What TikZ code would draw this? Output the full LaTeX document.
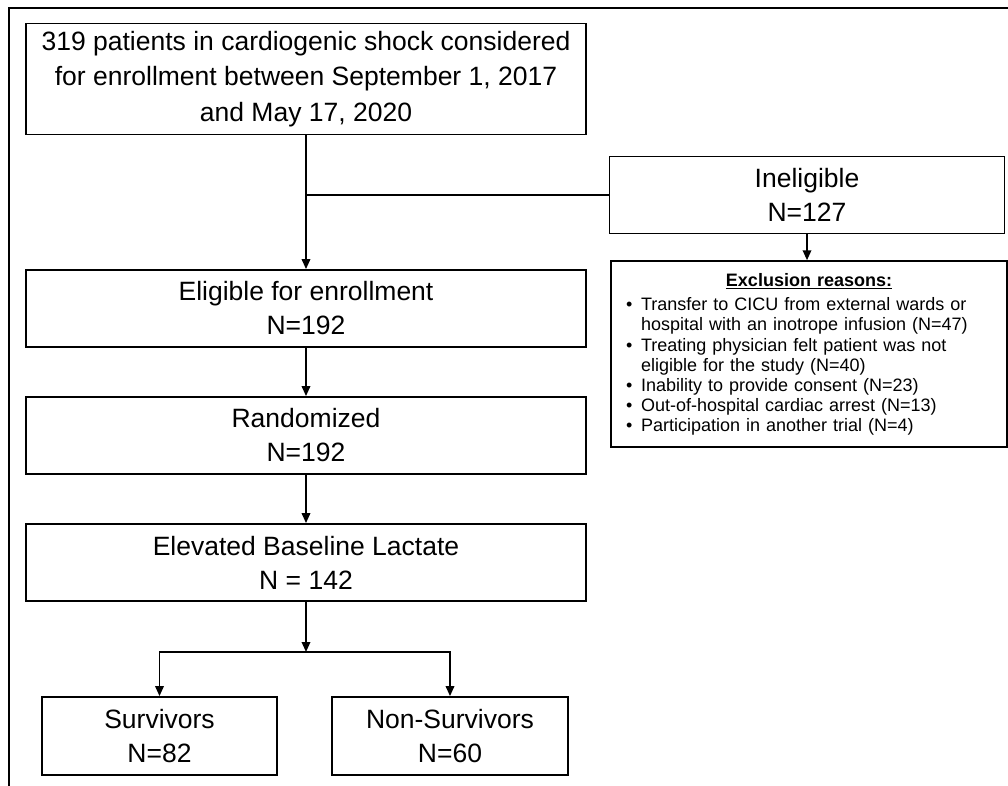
\documentclass[tikz,border=0pt]{standalone}
\usepackage{fontspec}
\setmainfont{Liberation Sans}
\usetikzlibrary{arrows.meta}
\newcommand{\exclitem}{\hangindent=30pt\hangafter=1\noindent\makebox[30pt][l]{\hspace{15pt}\textbullet}}
\begin{document}
\begin{tikzpicture}[x=1pt,y=-1pt,
  mainbox/.style={draw=black, line width=1.8pt, align=center, inner sep=0pt,
    font=\fontsize{26.5}{34}\selectfont},
  conn/.style={line width=1.8pt},
  tip/.style={-{Triangle[length=10pt,width=8.5pt]}},
  arr/.style={conn, tip},
  frame/.style={line width=1.8pt},
]
\useasboundingbox (0,0) rectangle (1008,786);
\coordinate (fbl) at (9,786);
\coordinate (ftl) at (9,8);
\coordinate (ftr) at (1008,8);
\draw[frame] (fbl) -- (ftl) -- (ftr);

\node[mainbox, minimum width=560pt, minimum height=111pt,
  font=\fontsize{26.5}{35.5}\selectfont] (top) at (306,79)
  {319 patients in cardiogenic shock considered\\for enrollment between September 1, 2017\\and May 17, 2020};
\node[mainbox, minimum width=395pt, minimum height=77pt] (inel) at (807,195) {Ineligible\\N=127};
\node[mainbox, minimum width=560pt, minimum height=77pt] (elig) at (306,308.5) {Eligible for enrollment\\N=192};
\node[mainbox, minimum width=560pt, minimum height=77pt] (rand) at (306,435.5) {Randomized\\N=192};
\node[mainbox, minimum width=560pt, minimum height=77pt] (elev) at (306,562.5) {Elevated Baseline Lactate\\N = 142};
\node[mainbox, minimum width=235pt, minimum height=78pt] (surv) at (159.5,736) {Survivors\\N=82};
\node[mainbox, minimum width=236pt, minimum height=78pt] (nons) at (450,736) {Non-Survivors\\N=60};

\node[draw=black, line width=1.5pt, minimum width=396pt, minimum height=186pt, inner sep=0pt] (excl) at (809,354) {};
\node[inner sep=0pt, text width=396pt, font=\fontsize{18}{20.2}\selectfont] (excltext) at ([yshift=-0.5pt]excl.center) {%
{\centering\textbf{\underline{Exclusion reasons:}}\par}%
\vspace{4pt}%
\raggedright
\exclitem Transfer to CICU from external wards or\newline hospital with an inotrope infusion (N=47)\par
\exclitem Treating physician felt patient was not\newline eligible for the study (N=40)\par
\exclitem Inability to provide consent (N=23)\par
\exclitem Out-of-hospital cardiac arrest (N=13)\par
\exclitem Participation in another trial (N=4)\par};

\coordinate (split) at (top.south |- inel.west);
\coordinate (junc) at (306,652);
\draw[arr] (top.south) -- (elig.north);
\draw[conn] (split) -- (inel.west);
\draw[arr] (inel.south) -- (inel.south |- excl.north);
\draw[arr] (elig.south) -- (rand.north);
\draw[arr] (rand.south) -- (elev.north);
\draw[arr] (elev.south) -- (junc);
\draw[conn, {Triangle[length=10pt,width=8.5pt]}-{Triangle[length=10pt,width=8.5pt]}] (surv.north) |- (junc) -| (nons.north);
\end{tikzpicture}
\end{document}
